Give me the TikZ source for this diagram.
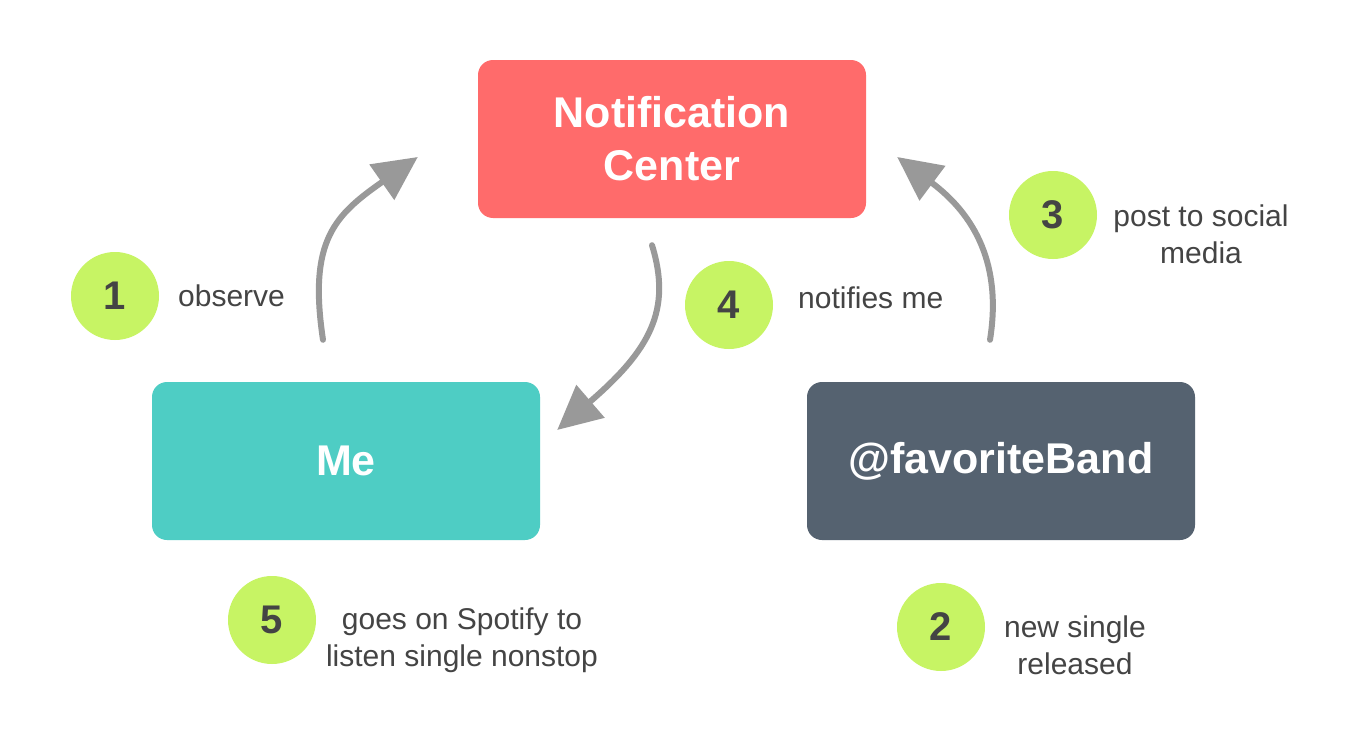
\documentclass[tikz,border=0pt]{standalone}
\usepackage{fontspec}
\setmainfont{Liberation Sans}
\usepackage{tikz}
\usetikzlibrary{positioning,arrows.meta}
\definecolor{ncred}{HTML}{FF6B6B}
\definecolor{meteal}{HTML}{4ECDC4}
\definecolor{bandslate}{HTML}{556270}
\definecolor{stepgreen}{HTML}{C7F464}
\definecolor{arrowgray}{HTML}{999999}
\definecolor{labelgray}{HTML}{444444}
\tikzset{%
  box/.style={%
    rounded corners=15pt,
    minimum width=388pt,
    minimum height=158pt,
    text=white,
    align=center,
    font=\fontsize{43}{53}\selectfont\bfseries
  },
  num/.style={%
    circle,
    fill=stepgreen,
    minimum size=88pt,
    inner sep=0pt,
    text=labelgray,
    font=\fontsize{40}{40}\selectfont\bfseries
  },
  lbl/.style={%
    text=labelgray,
    inner sep=0pt,
    align=center,
    font=\fontsize{30}{37}\selectfont
  },
  flow/.style={%
    -{Triangle[length=44pt,width=42pt]},
    line width=6pt,
    draw=arrowgray,
    line cap=round
  }
}

\begin{document}
\begin{tikzpicture}[x=1pt,y=-1pt]
    \fill[white] (0,0) rectangle (1366,744);
    \useasboundingbox (0,0) rectangle (1366,744);

    \node[box,fill=ncred] (nc) at (672,139) {Notification\\Center};
    \node[box,fill=meteal] (me) at (346,461) {Me};
    \node[box,fill=bandslate] (band) at (1001,461) {@favoriteBand};

    \node[num] (n1) at (115,296) {1};
    \node[num] (n2) at (941,627) {2};
    \node[num] (n3) at (1053,215) {3};
    \node[num] (n4) at (729,305) {4};
    \node[num] (n5) at (272,620) {5};

    \node[lbl,anchor=west] (l1) at (178,296) {observe};
    \node[lbl] (l2) at (1075,645) {new single\\released};
    \node[lbl] (l3) at (1201,234) {post to social\\media};
    \node[lbl,anchor=west] (l4) at (798,298) {notifies me};
    \node[lbl] (l5) at (462,640) {goes on Spotify to\\listen single nonstop};

    \draw[flow] ([xshift=-23pt,yshift=42pt]me.north)
      .. controls (308,240) and (335,215) .. ([xshift=-60pt,yshift=-18pt]nc.west);
    \draw[flow] ([xshift=-11pt,yshift=42pt]band.north)
      .. controls (1002,265) and (975,215) .. ([xshift=31pt,yshift=-18pt]nc.east);
    \draw[flow] ([xshift=-20pt,yshift=-27pt]nc.south)
      .. controls (672,310) and (650,350) .. ([xshift=17pt,yshift=31pt]me.east);
\end{tikzpicture}
\end{document}
